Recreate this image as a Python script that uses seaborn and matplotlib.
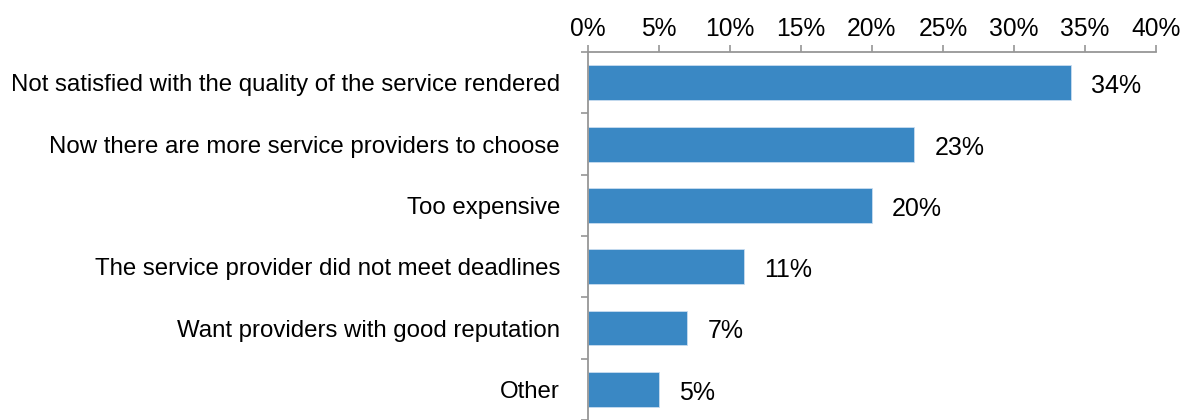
import matplotlib
matplotlib.use("Agg")
import matplotlib.pyplot as plt
from matplotlib.ticker import FixedLocator, PercentFormatter
import seaborn as sns
import pandas as pd

reasons = [
    "Not satisfied with the quality of the service rendered",
    "Now there are more service providers to choose",
    "Too expensive",
    "The service provider did not meet deadlines",
    "Want providers with good reputation",
    "Other",
]
shares = [34, 23, 20, 11, 7, 5]
x_ticks = [0, 5, 10, 15, 20, 25, 30, 35, 40]

sns.set_theme(style="white")
plt.rcParams["font.family"] = ["Liberation Sans", "DejaVu Sans"]

df = pd.DataFrame({"reason": reasons, "share": shares})

fig = plt.figure(figsize=(11.93, 4.20), dpi=100)
ax = fig.add_axes([0.4926, 0.0, 0.969 - 0.4926, 0.876])

sns.barplot(data=df, x="share", y="reason", orient="h", color="#3A88C4",
            width=0.57, saturation=1, edgecolor="#C9DDF0", linewidth=0.6, ax=ax)

axis_grey = "#969696"
ax.set_xlim(0, 40)
ax.set_ylim(len(reasons) - 0.5, -0.5)
ax.set_xlabel("")
ax.set_ylabel("")

# percent axis along the top
ax.xaxis.tick_top()
ax.xaxis.set_major_locator(FixedLocator(x_ticks))
ax.xaxis.set_major_formatter(PercentFormatter(decimals=0))
ax.tick_params(axis="x", which="major", direction="out", length=5.2, width=1.2,
               color=axis_grey, labelsize=17.7, labelcolor="black", pad=2.5,
               top=True, bottom=False)

# category labels, with boundary ticks between categories
ax.tick_params(axis="y", which="major", length=0, labelsize=17.25,
               labelcolor="black", pad=20)
ax.yaxis.set_minor_locator(FixedLocator([i - 0.5 for i in range(len(reasons) + 1)]))
ax.tick_params(axis="y", which="minor", direction="out", length=5, width=1.2,
               color=axis_grey, left=True)

for side in ["right", "bottom"]:
    ax.spines[side].set_visible(False)
for side in ["left", "top"]:
    ax.spines[side].set_color(axis_grey)
    ax.spines[side].set_linewidth(1.3)

for i, v in enumerate(shares):
    ax.annotate(f"{v}%", xy=(v, i), xytext=(14.5, -2.5), textcoords="offset points",
                va="center", ha="left", fontsize=18, color="black")

fig.savefig("out.png", dpi=100)
